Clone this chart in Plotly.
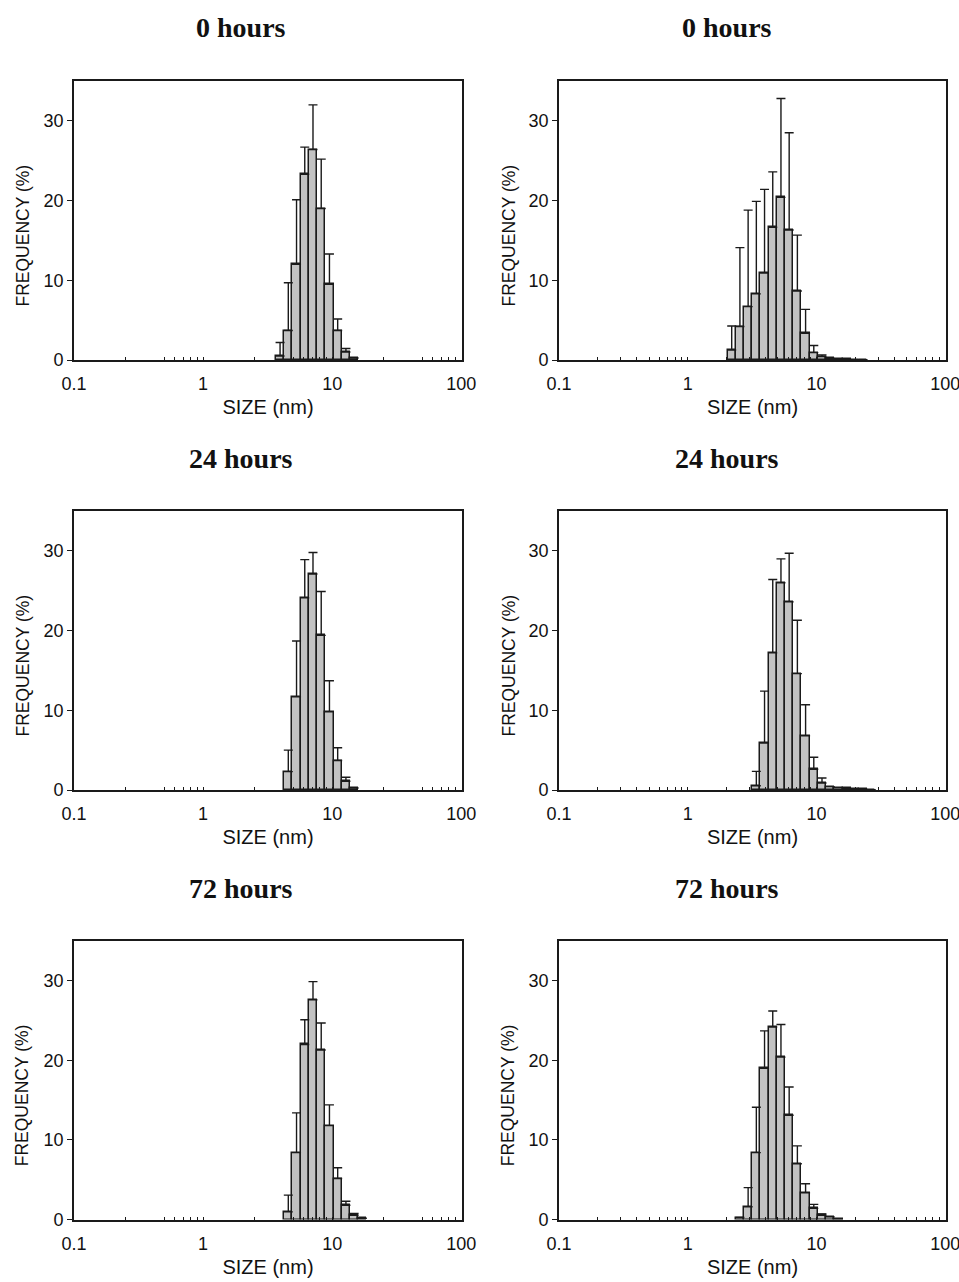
import numpy as np
import plotly.graph_objects as go

# ---------------- data (size bins in nm, frequency %, upper SD) ----------------
panel_titles = ["0 hours", "0 hours", "24 hours", "24 hours", "72 hours", "72 hours"]

sizes_L0 = [3.615, 4.187, 4.849, 5.615, 6.503, 7.531, 8.721, 10.1, 11.7, 13.54]
freq_L0 = [0.5, 3.7, 12.0, 23.3, 26.4, 19.0, 9.5, 3.7, 1.0, 0.25]
err_L0 = [1.7, 6.0, 8.1, 3.4, 5.6, 6.2, 3.8, 1.45, 0.45, None]

sizes_R0 = [2.01, 2.328, 2.696, 3.122, 3.615, 4.187, 4.849, 5.615, 6.503, 7.531,
            8.721, 10.1, 11.7, 13.54, 15.69, 18.17, 21.04]
freq_R0 = [1.26, 4.2, 6.7, 8.3, 10.9, 16.65, 20.4, 16.3, 8.66, 3.35,
           0.92, 0.42, 0.2, 0.12, 0.08, 0.05, 0.03]
err_R0 = [3.0, 9.9, 12.1, 11.6, 10.5, 6.95, 12.4, 12.2, 7.0, 3.0,
          0.9, 0.2, None, None, None, None, None]

sizes_L24 = [4.187, 4.849, 5.615, 6.503, 7.531, 8.721, 10.1, 11.7, 13.54]
freq_L24 = [2.3, 11.7, 24.1, 27.1, 19.4, 9.8, 3.7, 1.1, 0.25]
err_L24 = [2.7, 7.0, 4.8, 2.7, 5.5, 3.9, 1.6, 0.5, None]

sizes_R24 = [3.122, 3.615, 4.187, 4.849, 5.615, 6.503, 7.531, 8.721, 10.1, 11.7,
             13.54, 15.69, 18.17, 21.04, 24.36]
freq_R24 = [0.54, 5.9, 17.2, 26.0, 23.6, 14.6, 6.8, 2.6, 0.88, 0.42,
            0.3, 0.2, 0.12, 0.08, 0.04]
err_R24 = [1.8, 6.5, 9.2, 3.0, 6.1, 6.7, 3.9, 1.5, 0.62, None,
           None, None, None, None, None]

sizes_L72 = [4.187, 4.849, 5.615, 6.503, 7.531, 8.721, 10.1, 11.7, 13.54, 15.69]
freq_L72 = [0.96, 8.4, 22.0, 27.6, 21.3, 11.8, 5.15, 1.8, 0.54, 0.15]
err_L72 = [2.1, 5.0, 3.1, 2.3, 3.4, 2.6, 1.35, 0.5, 0.21, None]

sizes_R72 = [2.328, 2.696, 3.122, 3.615, 4.187, 4.849, 5.615, 6.503, 7.531, 8.721,
             10.1, 11.7, 13.54]
freq_R72 = [0.25, 1.6, 8.4, 19.0, 24.2, 20.4, 13.1, 7.0, 3.35, 1.4,
            0.54, 0.33, 0.1]
err_R72 = [None, 2.4, 5.7, 4.7, 2.0, 4.1, 3.55, 2.25, 1.15, 0.5,
           0.16, None, None]

x_major_ticks = [0.1, 1, 10, 100]
x_major_text = ["0.1", "1", "10", "100"]
minor_left = [0.25, 0.5, 0.6, 0.7, 0.8, 0.9, 2.5, 5, 6, 7, 8, 9, 25, 50, 60, 70, 80, 90]
minor_right = [0.2, 0.3, 0.4, 0.5, 0.6, 0.7, 0.8, 0.9, 2, 3, 4, 5, 6, 7, 8, 9,
               20, 30, 40, 50, 60, 70, 80, 90]
y_ticks = [0, 10, 20, 30]
x_title = "SIZE (nm)"
y_title = "FREQUENCY (%)"

panels = [
    (sizes_L0, freq_L0, err_L0),
    (sizes_R0, freq_R0, err_R0),
    (sizes_L24, freq_L24, err_L24),
    (sizes_R24, freq_R24, err_R24),
    (sizes_L72, freq_L72, err_L72),
    (sizes_R72, freq_R72, err_R72),
]

# ---------------- layout geometry ----------------
W, H = 959, 1282
col_px = [(74, 462), (559, 946)]
row_px = [(81, 360), (511, 790), (941, 1219.5)]
title_x_px = [241, 727]
ytitle_x_px = [22, 508]
BIN_W = 0.0637  # width of one size class in log10 units

fig = go.Figure()
layout = dict(
    width=W, height=H, autosize=False,
    margin=dict(l=0, r=0, t=0, b=0, autoexpand=False),
    paper_bgcolor="white", plot_bgcolor="white",
    showlegend=False, bargap=0,
    font=dict(family="Liberation Sans, Arial, sans-serif", color="#111"),
)
annotations = []
LINE = "#1a1a1a"
SANS = "Liberation Sans, Arial, sans-serif"

for i, (sz, fr, er) in enumerate(panels):
    r, c = divmod(i, 2)
    n = i + 1
    xa = "xaxis" if n == 1 else f"xaxis{n}"
    ya = "yaxis" if n == 1 else f"yaxis{n}"
    xref = "x" if n == 1 else f"x{n}"
    yref = "y" if n == 1 else f"y{n}"
    x0, x1 = col_px[c]
    y0, y1 = row_px[r]
    minors = minor_left if c == 0 else minor_right

    err_arr = [e if e is not None else float("nan") for e in er]
    fig.add_trace(go.Bar(
        x=np.log10(sz), y=fr, width=BIN_W, offset=0.006,
        marker=dict(color="#c2c2c2", line=dict(color=LINE, width=1.5)),
        error_y=dict(type="data", symmetric=False, array=err_arr,
                     arrayminus=[0] * len(er), color=LINE,
                     thickness=1.4, width=4.5),
        xaxis=xref, yaxis=yref, hoverinfo="x+y",
    ))

    layout[xa] = dict(
        domain=[x0 / W, x1 / W], anchor=yref, automargin=False,
        range=[-1, np.log10(100) + 0.005],
        tickvals=np.log10(x_major_ticks), ticktext=x_major_text,
        ticks="inside", ticklen=3, tickwidth=1.2, tickcolor=LINE,
        minor=dict(tickvals=np.log10(minors), ticks="inside", ticklen=3,
                   tickwidth=1.2, tickcolor=LINE, showgrid=False),
        showline=True, linecolor=LINE, linewidth=1.6, mirror=True,
        showgrid=False, zeroline=False,
        tickfont=dict(size=18, family=SANS),
        ticklabelstandoff=7, ticklabeloverflow="allow",
        title=dict(text=x_title, standoff=7, font=dict(size=20, family=SANS)),
        fixedrange=True,
    )
    layout[ya] = dict(
        domain=[1 - y1 / H, 1 - y0 / H], anchor=xref, automargin=False,
        range=[0, 35], tickvals=y_ticks,
        ticks="outside", ticklen=5, tickwidth=1.2, tickcolor=LINE,
        showline=True, linecolor=LINE, linewidth=1.6, mirror=True,
        showgrid=False, zeroline=False,
        tickfont=dict(size=18, family=SANS),
        fixedrange=True,
    )
    annotations.append(dict(
        text=f"<b>{panel_titles[i]}</b>", xref="paper", yref="paper",
        x=title_x_px[c] / W, y=1 - (y0 - 53) / H,
        xanchor="center", yanchor="middle", showarrow=False,
        font=dict(size=28, family="Liberation Serif, Times New Roman, serif", color="#111"),
    ))
    annotations.append(dict(
        text=y_title, xref="paper", yref="paper", textangle=-90,
        x=ytitle_x_px[c] / W, y=1 - ((y0 + y1) / 2 + 15) / H,
        xanchor="center", yanchor="middle", showarrow=False,
        font=dict(size=17.5, family=SANS, color="#111"),
    ))

layout["annotations"] = annotations
fig.update_layout(**layout)
fig.write_html(
    "out.html",
    config={"displayModeBar": False},
    post_script="document.body.style.margin='0';document.body.style.overflow='hidden';",
)
